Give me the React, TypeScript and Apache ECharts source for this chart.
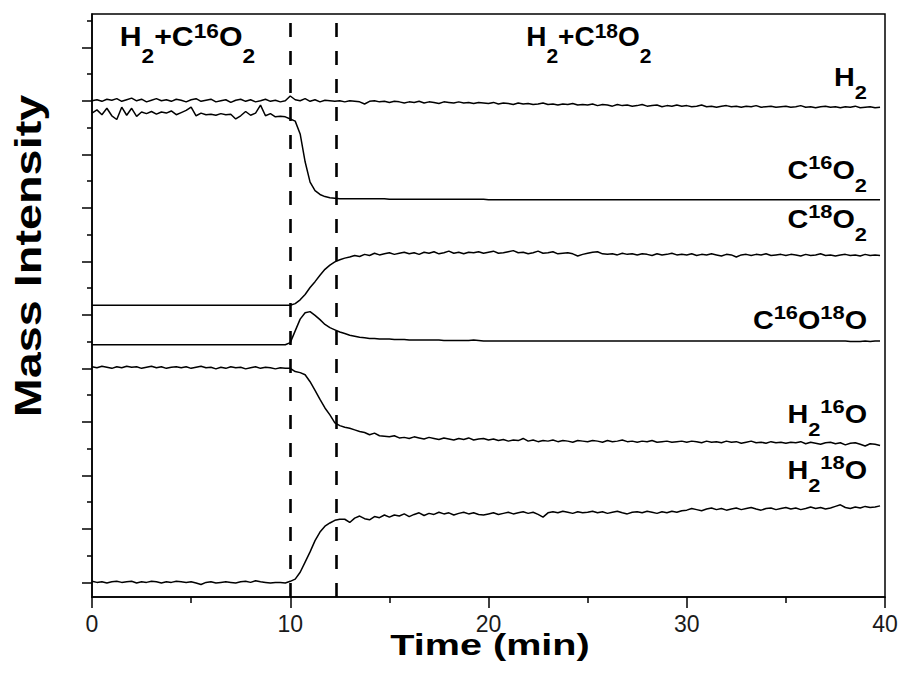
import React, { useEffect, useRef } from "react";
import * as echarts from "echarts";

// time grid (min)
const TIME: number[] = Array.from({ length: 160 }, (_, i) => i * 0.25);

// values in axis units (one major y tick = 1)
const H2 = [
  9.00, 9.02, 8.99, 9.03, 9.01, 9.04, 8.99, 9.02, 9.05, 9.00, 9.03, 8.98, 9.01, 9.04, 9.00, 9.02, 8.99, 9.03, 9.01, 8.98,
  9.02, 9.04, 8.99, 9.01, 9.03, 8.98, 9.00, 9.02, 8.97, 9.01, 9.03, 8.99, 9.02, 8.98, 9.00, 9.03, 8.99, 9.01, 8.98, 9.00,
  9.09, 9.02, 9.00, 9.04, 8.99, 9.02, 8.98, 9.01, 9.00, 8.99, 9.00, 8.98, 9.00, 8.99, 8.98, 8.94, 8.99, 9.00, 8.98, 8.99,
  8.97, 8.99, 8.98, 8.96, 8.98, 8.97, 8.99, 8.96, 8.98, 8.97, 8.95, 8.98, 8.97, 8.96, 8.98, 8.96, 8.97, 8.95, 8.97, 8.96,
  8.95, 8.97, 8.94, 8.96, 8.95, 8.93, 8.96, 8.94, 8.95, 8.93, 8.94, 8.96, 8.93, 8.94, 8.92, 8.94, 8.93, 8.95, 8.92, 8.93,
  8.92, 8.94, 8.91, 8.93, 8.92, 8.90, 8.93, 8.91, 8.92, 8.90, 8.91, 8.93, 8.90, 8.91, 8.92, 8.89, 8.91, 8.90, 8.92, 8.90,
  8.91, 8.89, 8.90, 8.92, 8.89, 8.90, 8.88, 8.90, 8.91, 8.89, 8.90, 8.88, 8.90, 8.89, 8.91, 8.88, 8.89, 8.90, 8.88, 8.89,
  8.90, 8.88, 8.89, 8.91, 8.88, 8.89, 8.87, 8.89, 8.90, 8.88, 8.89, 8.87, 8.89, 8.88, 8.90, 8.87, 8.88, 8.89, 8.87, 8.88,
];

const C16O2 = [
  8.77, 8.83, 8.74, 8.86, 8.72, 8.65, 8.88, 8.73, 8.86, 8.71, 8.79, 8.76, 8.80, 8.75, 8.79, 8.77, 8.81, 8.74, 8.78, 8.82,
  8.88, 8.72, 8.77, 8.74, 8.75, 8.73, 8.76, 8.74, 8.75, 8.66, 8.72, 8.80, 8.73, 8.77, 8.92, 8.72, 8.76, 8.70, 8.71, 8.70,
  8.66, 8.62, 8.38, 7.86, 7.48, 7.32, 7.25, 7.21, 7.19, 7.18, 7.17, 7.17, 7.17, 7.17, 7.17, 7.17, 7.17, 7.17, 7.17, 7.17,
  7.16, 7.16, 7.16, 7.16, 7.16, 7.16, 7.16, 7.16, 7.16, 7.16, 7.16, 7.16, 7.16, 7.16, 7.16, 7.16, 7.16, 7.16, 7.16, 7.16,
  7.15, 7.15, 7.15, 7.15, 7.15, 7.15, 7.15, 7.15, 7.15, 7.15, 7.15, 7.15, 7.15, 7.15, 7.15, 7.15, 7.15, 7.15, 7.15, 7.15,
  7.15, 7.15, 7.15, 7.15, 7.15, 7.15, 7.15, 7.15, 7.15, 7.15, 7.15, 7.15, 7.15, 7.15, 7.15, 7.15, 7.15, 7.15, 7.15, 7.15,
  7.15, 7.15, 7.15, 7.15, 7.15, 7.15, 7.15, 7.15, 7.15, 7.15, 7.15, 7.15, 7.15, 7.15, 7.15, 7.15, 7.15, 7.15, 7.15, 7.15,
  7.15, 7.15, 7.15, 7.15, 7.15, 7.15, 7.15, 7.15, 7.15, 7.15, 7.15, 7.15, 7.15, 7.15, 7.15, 7.15, 7.15, 7.15, 7.15, 7.15,
];

const C18O2 = [
  5.18, 5.18, 5.18, 5.18, 5.18, 5.18, 5.18, 5.18, 5.18, 5.18, 5.18, 5.18, 5.18, 5.18, 5.18, 5.18, 5.18, 5.18, 5.18, 5.18,
  5.18, 5.18, 5.18, 5.18, 5.18, 5.18, 5.18, 5.18, 5.18, 5.18, 5.18, 5.18, 5.18, 5.18, 5.18, 5.18, 5.18, 5.18, 5.18, 5.18,
  5.18, 5.21, 5.28, 5.38, 5.51, 5.62, 5.74, 5.85, 5.93, 5.99, 6.03, 6.06, 6.08, 6.11, 6.09, 6.13, 6.11, 6.15, 6.12, 6.14,
  6.16, 6.13, 6.15, 6.17, 6.14, 6.16, 6.13, 6.17, 6.15, 6.18, 6.14, 6.16, 6.19, 6.15, 6.17, 6.14, 6.17, 6.16, 6.18, 6.15,
  6.17, 6.19, 6.15, 6.16, 6.18, 6.20, 6.16, 6.17, 6.14, 6.16, 6.19, 6.15, 6.16, 6.18, 6.14, 6.15, 6.16, 6.14, 6.10, 6.13,
  6.15, 6.17, 6.18, 6.14, 6.13, 6.14, 6.12, 6.15, 6.13, 6.14, 6.12, 6.14, 6.13, 6.11, 6.14, 6.12, 6.13, 6.15, 6.12, 6.13,
  6.12, 6.14, 6.11, 6.13, 6.12, 6.14, 6.12, 6.10, 6.13, 6.12, 6.08, 6.12, 6.13, 6.11, 6.13, 6.12, 6.14, 6.11, 6.12, 6.13,
  6.11, 6.13, 6.12, 6.10, 6.13, 6.11, 6.12, 6.14, 6.11, 6.12, 6.10, 6.12, 6.13, 6.11, 6.12, 6.10, 6.13, 6.11, 6.12, 6.11,
];

const C16O18O = [
  4.44, 4.44, 4.44, 4.44, 4.44, 4.44, 4.44, 4.44, 4.44, 4.44, 4.44, 4.44, 4.44, 4.44, 4.44, 4.44, 4.44, 4.44, 4.44, 4.44,
  4.44, 4.44, 4.44, 4.44, 4.44, 4.44, 4.44, 4.44, 4.44, 4.44, 4.44, 4.44, 4.44, 4.44, 4.44, 4.44, 4.44, 4.44, 4.44, 4.44,
  4.48, 4.70, 4.92, 5.04, 5.06, 4.99, 4.91, 4.82, 4.76, 4.72, 4.68, 4.65, 4.62, 4.60, 4.58, 4.57, 4.56, 4.56, 4.55, 4.55,
  4.55, 4.54, 4.54, 4.54, 4.53, 4.53, 4.53, 4.53, 4.53, 4.53, 4.53, 4.52, 4.52, 4.52, 4.52, 4.52, 4.52, 4.53, 4.52, 4.51,
  4.51, 4.51, 4.51, 4.51, 4.51, 4.51, 4.51, 4.51, 4.51, 4.51, 4.51, 4.51, 4.51, 4.51, 4.51, 4.51, 4.51, 4.51, 4.51, 4.51,
  4.51, 4.51, 4.51, 4.51, 4.51, 4.51, 4.51, 4.51, 4.51, 4.51, 4.51, 4.51, 4.51, 4.51, 4.51, 4.51, 4.51, 4.51, 4.51, 4.51,
  4.51, 4.51, 4.51, 4.51, 4.51, 4.51, 4.51, 4.51, 4.51, 4.51, 4.51, 4.51, 4.51, 4.51, 4.51, 4.51, 4.51, 4.51, 4.51, 4.51,
  4.51, 4.51, 4.51, 4.51, 4.51, 4.51, 4.51, 4.51, 4.51, 4.51, 4.51, 4.51, 4.51, 4.50, 4.50, 4.50, 4.51, 4.50, 4.51, 4.51,
];

const H2_16O = [
  4.03, 4.01, 4.04, 4.02, 4.00, 4.03, 4.01, 4.04, 4.02, 4.03, 4.00, 4.02, 4.04, 4.01, 4.03, 4.00, 4.02, 4.03, 4.01, 4.03,
  4.00, 4.02, 4.04, 4.01, 4.02, 3.99, 4.02, 4.00, 4.03, 4.01, 4.02, 3.99, 4.01, 4.03, 4.00, 4.02, 4.01, 3.99, 4.01, 4.00,
  4.00, 3.94, 3.92, 3.88, 3.75, 3.59, 3.42, 3.26, 3.13, 2.98, 2.93, 2.90, 2.88, 2.85, 2.82, 2.80, 2.76, 2.79, 2.74, 2.73,
  2.72, 2.74, 2.70, 2.71, 2.69, 2.72, 2.70, 2.68, 2.71, 2.69, 2.67, 2.70, 2.68, 2.66, 2.69, 2.67, 2.70, 2.66, 2.68, 2.69,
  2.66, 2.68, 2.65, 2.67, 2.64, 2.66, 2.65, 2.69, 2.64, 2.66, 2.63, 2.65, 2.64, 2.66, 2.63, 2.65, 2.64, 2.62, 2.65, 2.64,
  2.63, 2.65, 2.64, 2.62, 2.65, 2.63, 2.64, 2.66, 2.63, 2.64, 2.62, 2.64, 2.63, 2.65, 2.62, 2.63, 2.64, 2.62, 2.63, 2.64,
  2.62, 2.64, 2.63, 2.61, 2.64, 2.62, 2.63, 2.61, 2.64, 2.62, 2.63, 2.60, 2.62, 2.64, 2.61, 2.62, 2.60, 2.63, 2.61, 2.62,
  2.60, 2.62, 2.61, 2.63, 2.59, 2.62, 2.60, 2.58, 2.61, 2.62, 2.59, 2.61, 2.57, 2.60, 2.61, 2.58, 2.55, 2.59, 2.58, 2.56,
];

const H2_18O = [
  0.02, 0.00, 0.01, -0.01, 0.01, 0.02, 0.00, 0.01, 0.02, -0.01, 0.01, 0.00, 0.02, 0.01, -0.01, 0.01, 0.00, 0.02, 0.01, 0.00,
  0.01, -0.01, -0.04, 0.00, 0.01, -0.01, 0.00, 0.01, 0.00, -0.01, 0.01, 0.02, 0.00, 0.03, 0.01, 0.00, -0.01, 0.00, 0.00, -0.01,
  0.02, 0.06, 0.19, 0.38, 0.57, 0.78, 0.94, 1.05, 1.11, 1.16, 1.18, 1.18, 1.12, 1.20, 1.24, 1.19, 1.17, 1.23, 1.21, 1.26,
  1.22, 1.26, 1.24, 1.28, 1.23, 1.27, 1.30, 1.25, 1.29, 1.27, 1.31, 1.28, 1.30, 1.26, 1.29, 1.31, 1.28, 1.30, 1.27, 1.26,
  1.28, 1.30, 1.27, 1.29, 1.31, 1.28, 1.30, 1.32, 1.29, 1.31, 1.27, 1.22, 1.30, 1.32, 1.30, 1.33, 1.31, 1.29, 1.32, 1.30,
  1.31, 1.33, 1.30, 1.32, 1.29, 1.31, 1.33, 1.30, 1.28, 1.31, 1.32, 1.30, 1.33, 1.31, 1.29, 1.32, 1.30, 1.33, 1.31, 1.34,
  1.35, 1.38, 1.36, 1.34, 1.37, 1.39, 1.36, 1.38, 1.35, 1.37, 1.39, 1.36, 1.38, 1.40, 1.37, 1.35, 1.38, 1.39, 1.36, 1.38,
  1.40, 1.37, 1.39, 1.36, 1.38, 1.41, 1.38, 1.40, 1.37, 1.39, 1.42, 1.45, 1.40, 1.38, 1.41, 1.39, 1.42, 1.40, 1.41, 1.43,
];

const SERIES = [
  { name: "H2", values: H2 },
  { name: "C16O2", values: C16O2 },
  { name: "C18O2", values: C18O2 },
  { name: "C16O18O", values: C16O18O },
  { name: "H2 16O", values: H2_16O },
  { name: "H2 18O", values: H2_18O },
];

const SWITCH_TIMES = [10, 12.3];
const Y_MAJOR = [0, 1, 2, 3, 4, 5, 6, 7, 8, 9, 10];
const Y_MINOR = [0.5, 1.5, 2.5, 3.5, 4.5, 5.5, 6.5, 7.5, 8.5, 9.5, 10.5];

// curve labels (rich text) and the value (in y units) they sit at
const CURVE_LABELS = [
  { text: "{m|H}{d|2}", y: 9.43 },
  { text: "{m|C}{u|16}{m|O}{d|2}", y: 7.69 },
  { text: "{m|C}{u|18}{m|O}{d|2}", y: 6.77 },
  { text: "{m|C}{u|16}{m|O}{u|18}{m|O}", y: 4.89 },
  { text: "{m|H}{d|2}{u|16}{m|O}", y: 3.13 },
  { text: "{m|H}{d|2}{u|18}{m|O}", y: 2.09 },
];
const PHASE_LABELS = [
  { text: "{m|H}{d|2}{m|+C}{u|16}{m|O}{d|2}", t: 1.4 },
  { text: "{m|H}{d|2}{m|+C}{u|18}{m|O}{d|2}", t: 21.9 },
];

const FONT = "'Liberation Sans', Arial, sans-serif";

export default function App() {
  const ref = useRef<HTMLDivElement>(null);

  useEffect(() => {
    const chart = echarts.init(ref.current!, null, { renderer: "svg" });
    const Y_MIN = -0.273;
    const Y_MAX = 10.622;
    const gridLeft = 92, gridTop = 14, gridRight = 18, gridBottom = 94;
    const plotH = 691 - gridTop - gridBottom;
    const plotW = 903 - gridLeft - gridRight;
    const yPix = (v: number) => gridTop + (Y_MAX - v) / (Y_MAX - Y_MIN) * plotH;
    const xPix = (t: number) => gridLeft + t / 40 * plotW;

    const rightRich = {
      m: { fontFamily: FONT, fontWeight: "bold", fontSize: 25, lineHeight: 40, verticalAlign: "middle", fill: "#000" },
      u: { fontFamily: FONT, fontWeight: "bold", fontSize: 19, height: 22, lineHeight: 22, verticalAlign: "top", fill: "#000" },
      d: { fontFamily: FONT, fontWeight: "bold", fontSize: 19, height: 12, lineHeight: 12, verticalAlign: "bottom", fill: "#000" },
    };
    const topRich = {
      m: { fontFamily: FONT, fontWeight: "bold", fontSize: 28, lineHeight: 44, verticalAlign: "middle", fill: "#000" },
      u: { fontFamily: FONT, fontWeight: "bold", fontSize: 21, height: 32, lineHeight: 32, verticalAlign: "top", fill: "#000" },
      d: { fontFamily: FONT, fontWeight: "bold", fontSize: 21, height: 6, lineHeight: 6, verticalAlign: "bottom", fill: "#000" },
    };

    const graphics: any[] = [];
    CURVE_LABELS.forEach((l) => {
      graphics.push({
        type: "text",
        x: 867,
        y: yPix(l.y),
        scaleX: 1.15,
        silent: true,
        style: {
          text: l.text,
          rich: rightRich,
          align: "right",
          textAlign: "right",
          verticalAlign: "middle",
          textVerticalAlign: "middle",
        },
      });
    });
    PHASE_LABELS.forEach((l, i) => {
      graphics.push({
        type: "text",
        x: xPix(l.t),
        y: 36.7,
        scaleX: i === 0 ? 1.08 : 1.0,
        silent: true,
        style: {
          text: l.text,
          rich: topRich,
          align: "left",
          textAlign: "left",
          verticalAlign: "middle",
          textVerticalAlign: "middle",
        },
      });
    });
    graphics.push({
      type: "text",
      x: 490,
      y: 644,
      scaleX: 1.32,
      silent: true,
      style: {
        text: "Time (min)",
        fontFamily: FONT,
        fontWeight: "bold",
        fontSize: 30,
        fill: "#000",
        align: "center",
        textAlign: "center",
        verticalAlign: "middle",
        textVerticalAlign: "middle",
      },
    });
    graphics.push({
      type: "text",
      x: 28.5,
      y: 256,
      rotation: Math.PI / 2,
      scaleX: 1.3,
      silent: true,
      style: {
        text: "Mass Intensity",
        fontFamily: FONT,
        fontWeight: "bold",
        fontSize: 36,
        fill: "#000",
        align: "center",
        textAlign: "center",
        verticalAlign: "middle",
        textVerticalAlign: "middle",
      },
    });

    const lineCol = "#000";
    chart.setOption({
      animation: false,
      backgroundColor: "#fff",
      grid: {
        left: gridLeft,
        right: gridRight,
        top: gridTop,
        bottom: gridBottom,
        show: true,
        borderColor: lineCol,
        borderWidth: 1.5,
        containLabel: false,
      },
      xAxis: {
        type: "value",
        min: 0,
        max: 40,
        interval: 10,
        axisLine: { show: true, onZero: false, lineStyle: { color: lineCol, width: 1.5 } },
        axisTick: { show: true, length: 11, lineStyle: { color: lineCol, width: 1.5 } },
        minorTick: { show: true, splitNumber: 2, length: 6, lineStyle: { color: lineCol, width: 1.5 } },
        splitLine: { show: false },
        minorSplitLine: { show: false },
        axisLabel: { fontFamily: FONT, fontSize: 23, color: "#1a1a1a", margin: 15 },
      },
      yAxis: [
        {
          type: "value",
          min: Y_MIN,
          max: Y_MAX,
          position: "left",
          axisLine: { show: true, onZero: false, lineStyle: { color: lineCol, width: 1.5 } },
          axisTick: { show: true, length: 10, customValues: Y_MAJOR, lineStyle: { color: lineCol, width: 1.5 } },
          axisLabel: { show: false },
          splitLine: { show: false },
        },
        {
          type: "value",
          min: Y_MIN,
          max: Y_MAX,
          position: "left",
          axisLine: { show: false },
          axisTick: { show: true, length: 5, customValues: Y_MINOR, lineStyle: { color: lineCol, width: 1.5 } },
          axisLabel: { show: false },
          splitLine: { show: false },
        },
      ],
      series: SERIES.map((s, idx) => ({
        type: "line",
        name: s.name,
        yAxisIndex: 0,
        showSymbol: false,
        symbol: "none",
        silent: true,
        lineStyle: { color: lineCol, width: 1.5 },
        data: TIME.map((t, i) => [t, s.values[i]]),
        markLine:
          idx === 0
            ? {
                silent: true,
                symbol: ["none", "none"],
                label: { show: false },
                animation: false,
                lineStyle: { color: lineCol, width: 2.6, type: [14, 14] },
                data: SWITCH_TIMES.map((x) => ({ xAxis: x })),
              }
            : undefined,
      })),
      graphic: graphics,
    });
    return () => chart.dispose();
  }, []);

  return (
    <div
      ref={ref}
      style={{ position: "absolute", left: 0, top: 0, width: 903, height: 691, background: "#fff" }}
    />
  );
}
